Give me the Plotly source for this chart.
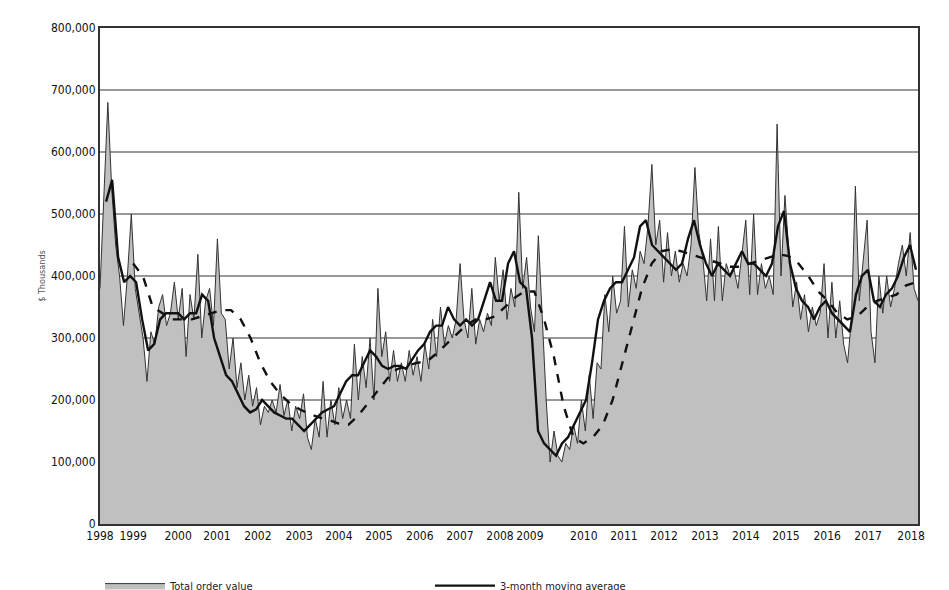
import numpy as np
import plotly.graph_objects as go

# Monthly-ish readings (thousands of $), evenly spread over 1998-2018
total = [380, 530, 680, 540, 450, 400, 320, 400, 500, 380, 340, 300, 230, 310, 290, 350, 370, 320,
         340, 390, 330, 380, 270, 370, 330, 435, 300, 360, 380, 320, 460, 340, 330, 250, 300, 220,
         260, 200, 240, 190, 220, 160, 190, 180, 200, 180, 225, 175, 200, 150, 190, 170, 210, 140,
         120, 170, 140, 230, 140, 200, 160, 220, 170, 200, 170, 290, 200, 270, 220, 300, 200, 380,
         270, 310, 230, 280, 230, 260, 230, 280, 240, 270, 230, 290, 250, 330, 270, 350, 290, 320,
         300, 330, 420, 330, 300, 380, 290, 330, 310, 340, 320, 430, 360, 410, 330, 380, 350, 535,
         380, 430, 350, 310, 465, 320, 200, 100, 150, 110, 100, 130, 120, 160, 130, 200, 150, 240,
         170, 260, 250, 370, 310, 400, 340, 360, 480, 350, 410, 380, 440, 420, 480, 580, 450, 490,
         390, 470, 400, 440, 390, 420, 400, 450, 575, 470, 430, 360, 460, 360, 480, 360, 420, 400,
         410, 380, 440, 490, 370, 500, 370, 420, 380, 400, 370, 645, 400, 530, 440, 350, 390, 330,
         370, 310, 350, 320, 340, 420, 300, 390, 300, 360, 290, 260, 330, 545, 360, 420, 490, 310,
         260, 400, 340, 400, 350, 380, 420, 450, 400, 470, 380, 360]

ma3 = [520, 555, 430, 390, 400, 390, 330, 280, 290, 330, 340, 340, 340, 330, 340, 340, 370, 360,
       300, 270, 240, 230, 210, 190, 180, 185, 200, 190, 180, 175, 170, 170, 160, 150, 160, 170,
       180, 185, 190, 210, 230, 240, 240, 260, 280, 270, 255, 250, 255, 255, 250, 265, 280, 290,
       310, 320, 320, 350, 330, 320, 330, 320, 330, 360, 390, 360, 360, 420, 440, 390, 380, 300,
       150, 130, 120, 110, 130, 140, 160, 180, 200, 260, 330, 360, 380, 390, 390, 410, 430, 480,
       490, 450, 440, 430, 420, 410, 420, 460, 490, 450, 420, 400, 420, 410, 400, 420, 440, 420,
       420, 410, 400, 420, 480, 505, 420, 380, 360, 350, 330, 350, 360, 340, 330, 320, 310, 370,
       400, 410, 360, 350, 370, 380, 400, 430, 450, 410]

ma12 = [420, 400, 350, 340, 330, 330, 330, 335, 340, 345, 345, 330, 300, 260, 230, 210, 195, 185,
        178, 172, 168, 162, 160, 175, 195, 215, 235, 250, 255, 260, 262, 275, 290, 305, 320, 330,
        330, 335, 350, 365, 375, 375, 330, 270, 190, 140, 130, 140, 160, 200, 260, 320, 380, 420,
        440, 443, 440, 435, 430, 425, 420, 415, 415, 420, 425, 430, 435, 432, 420, 400, 375, 360,
        340, 330, 335, 350, 360, 365, 370, 385, 390]

tick_pos = [1998.0, 1998.81, 1999.91, 2000.86, 2001.86, 2002.87, 2003.84, 2004.82, 2005.82, 2006.80,
            2007.78, 2008.51, 2009.83, 2010.81, 2011.79, 2012.79, 2013.79, 2014.77, 2015.78,
            2016.78, 2017.83]
tick_labels = [str(y) for y in range(1998, 2019)]

t_total = np.linspace(1998.0, 2018.0, len(total))
t_ma3 = np.linspace(1998.15, 2017.95, len(ma3))
t_ma12 = np.linspace(1998.81, 2017.95, len(ma12))

FONT = "Liberation Sans Narrow, DejaVu Sans Condensed, Arial Narrow, sans-serif"

fig = go.Figure()
fig.add_trace(go.Scatter(x=t_total, y=np.array(total) * 1000, name="Total order value",
                         mode="lines", fill="tozeroy", fillcolor="#c0c0c0",
                         line=dict(color="#333333", width=1)))
fig.add_trace(go.Scatter(x=t_ma3, y=np.array(ma3) * 1000, name="3-month moving average",
                         mode="lines", line=dict(color="#111111", width=2.4)))
fig.add_trace(go.Scatter(x=t_ma12, y=np.array(ma12) * 1000, name="12-month moving average",
                         mode="lines", line=dict(color="#111111", width=2.4, dash="dash")))

fig.update_layout(
    width=949, height=590,
    margin=dict(l=92, r=39, t=20, b=74, autoexpand=False),
    plot_bgcolor="white", paper_bgcolor="white",
    font=dict(family=FONT, size=12, color="#222222"),
    legend=dict(orientation="h", x=0.0, y=-0.095, xanchor="left", yanchor="top",
                entrywidth=255, font=dict(size=11), itemwidth=60),
    xaxis=dict(range=[1998, 2018], tickvals=tick_pos, ticktext=tick_labels, automargin=False,
               showgrid=False, showline=True, linecolor="#333333", linewidth=2, mirror=True,
               ticks="", tickfont=dict(size=12, color="#111111")),
    yaxis=dict(range=[0, 800000], dtick=100000, tickformat=",d", automargin=False,
               showgrid=True, gridcolor="#999999", gridwidth=2,
               showline=True, linecolor="#333333", linewidth=2, mirror=True,
               ticks="", tickfont=dict(size=12, color="#111111"),
               title=dict(text="$ Thousands", font=dict(size=9, color="#555555"), standoff=4)),
)

fig.write_html("out.html")
